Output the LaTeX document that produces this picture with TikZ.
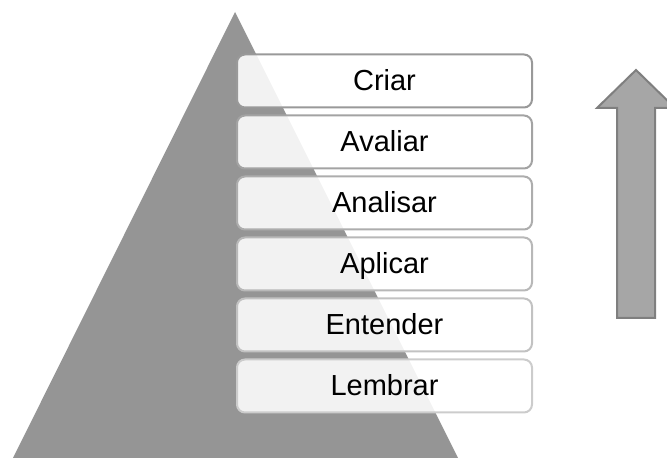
\documentclass[tikz,border=0pt]{standalone}
\usepackage{fontspec}
\setmainfont{Liberation Sans}
\usepackage{xcolor}
\usepackage{tikz}
\usetikzlibrary{positioning, calc}
\definecolor{pyrgray}{RGB}{149,149,149}
\definecolor{arrowfill}{RGB}{166,166,166}
\definecolor{arrowline}{RGB}{127,127,127}
\tikzset{
    level/.style = {rectangle, rounded corners=8pt, line width=2pt,
        fill=white, fill opacity=0.88, text opacity=1,
        minimum width=295pt, minimum height=53pt, inner sep=0pt,
        text height=20.5pt, text depth=2pt,
        font=\fontsize{29}{33}\selectfont},
    pyramid/.style = {fill=pyrgray, draw=none},
    uparrow/.style = {fill=arrowfill, draw=arrowline, line width=2pt, line join=miter},
}

\begin{document}
\begin{tikzpicture}[x=1pt, y=1pt, node distance=6pt]
        \useasboundingbox (0,0) rectangle (667,458);
        \clip (0,0) rectangle (667,458);
        % pyramid
        \coordinate (apex) at (235,446);
        \coordinate (baseleft) at (13,0);
        \coordinate (baseright) at (458,0);
        \fill [pyramid] (apex) -- (baseright) -- (baseleft) -- cycle;
        % levels
        \node (criar) [level, draw=black!40] at (384.5,377) {Criar};
        \node (avaliar) [level, draw=black!36, below=of criar] {Avaliar};
        \node (analisar) [level, draw=black!32, below=of avaliar] {Analisar};
        \node (aplicar) [level, draw=black!28, below=of analisar] {Aplicar};
        \node (entender) [level, draw=black!24, below=of aplicar] {Entender};
        \node (lembrar) [level, draw=black!20, below=of entender] {Lembrar};
        % arrow
        \draw [uparrow] (617,140) -- (617,350) -- (597,350) -- (636,388)
            -- (675,350) -- (655,350) -- (655,140) -- cycle;
        \end{tikzpicture}
\end{document}
